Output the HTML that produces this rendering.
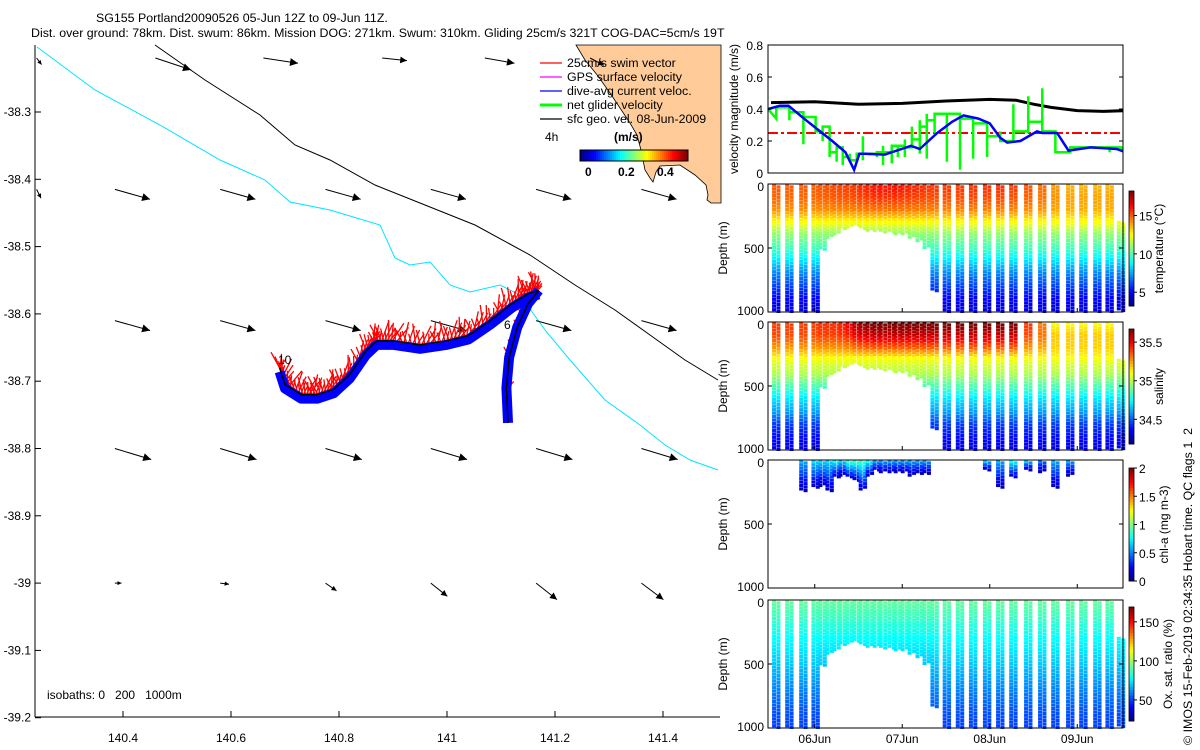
<!DOCTYPE html>
<html><head><meta charset="utf-8"><title>SG155 glider plot</title>
<style>
html,body{margin:0;padding:0;background:#fff;width:1200px;height:750px;overflow:hidden}
svg{display:block}
text{font-family:"Liberation Sans",sans-serif;font-size:12px;fill:#000;white-space:pre}
</style></head>
<body>
<svg id="fig" width="1200" height="750" viewBox="0 0 1200 750" xmlns="http://www.w3.org/2000/svg">
<g id="map">
  <text x="96" y="22" style="font-size:12.4px">SG155 Portland20090526 05-Jun 12Z to 09-Jun 11Z.</text>
  <text x="31" y="37" style="font-size:12.4px">Dist. over ground: 78km. Dist. swum: 86km. Mission DOG: 271km. Swum: 310km. Gliding 25cm/s 321T COG-DAC=5cm/s 19T</text>
  <polygon fill="#FFCC99" stroke="#000" stroke-width="0.8" points="576,45 585,60 598,76 610,93 620,108 630,123 637,135 641,150 643,160 645,170 650,178 653,182 656,172 660,166 680,165 695,175 706,185 708,195 707,200 711,203 721,203 721,45"/>
  <polyline fill="none" stroke="#00E5FF" stroke-width="1" points="37,47 95,90 160,125 220,160 265,180 290,202 330,210 380,225 395,258 410,265 430,262 450,285 470,292 500,285 520,295 545,330 570,360 605,400 640,425 665,445 690,460 718,470"/>
  <polyline fill="none" stroke="#000" stroke-width="1" points="155,45 205,80 260,115 295,145 330,160 375,185 425,205 475,225 530,255 575,285 615,310 650,335 685,360 718,380"/>
  <g id="vecs"></g>
  <g id="track"></g>
  <text x="278" y="364">10</text>
  <text x="504" y="329">6</text>
  <g>
    <g stroke-width="1.2"><line x1="540" y1="63" x2="562" y2="63" stroke="#f00"/><line x1="540" y1="77" x2="562" y2="77" stroke="#f0f"/><line x1="540" y1="91" x2="562" y2="91" stroke="#00f"/><line x1="540" y1="105" x2="562" y2="105" stroke="#0f0" stroke-width="3"/><line x1="540" y1="119" x2="562" y2="119" stroke="#000"/></g>
    <text x="567" y="67" style="font-size:12.4px">25cm/s swim vector</text>
    <text x="567" y="81" style="font-size:12.4px">GPS surface velocity</text>
    <text x="567" y="95" style="font-size:12.4px">dive-avg current veloc.</text>
    <text x="567" y="109" style="font-size:12.4px">net glider velocity</text>
    <text x="567" y="123" style="font-size:12.4px">sfc geo. vel. 08-Jun-2009</text>
    <text x="545" y="141">4h</text>
    <text x="614" y="141" style="font-weight:bold">(m/s)</text>
    <g id="speedbar"></g>
    <text x="585" y="176" style="font-weight:bold">0</text>
    <text x="618" y="176" style="font-weight:bold">0.2</text>
    <text x="657" y="176" style="font-weight:bold">0.4</text>
  </g>
  <text x="47" y="699">isobaths: 0   200   1000m</text>
  <line x1="35" y1="45" x2="35" y2="717" stroke="#000"/>
  <line x1="35" y1="717" x2="720" y2="717" stroke="#000"/>
  <g id="mapticks"></g>
</g>
<g id="vel"></g>
<g id="sections"></g>
<text transform="translate(1192,745) rotate(-90)" style="font-size:12.4px">© IMOS 15-Feb-2019 02:34:35 Hobart time. QC flags 1  2</text>
</svg>
<script>
// ---------- data ----------
const arrowLons = [140.385, 140.58, 140.775, 140.97, 141.165, 141.36];
const arrowLats = [-38.61, -38.8, -38.415];
const arrowU = [0.32, 0.33, 0.32];
const arrowV = [-0.09, -0.1, -0.09];
const topArrowLons = [140.24, 140.46, 140.66, 140.88, 141.07, 141.265];
const topArrowU = [0.05, 0.36, 0.35, 0.25, 0.3, 0.14];
const topArrowV = [-0.1, -0.18, -0.08, -0.04, -0.08, -0.11];
const botArrowLons = [140.385, 140.58, 140.775, 140.97, 141.165, 141.36];
const botArrowU = [0.06, 0.08, 0.1, 0.15, 0.19, 0.2];
const botArrowV = [0.0, -0.01, -0.07, -0.12, -0.15, -0.15];
const trackLon = [140.69, 140.7, 140.73, 140.76, 140.79, 140.82, 140.85, 140.87, 140.9, 140.95, 141.0, 141.04, 141.08, 141.12, 141.15, 141.17];
const trackLat = [-38.68, -38.705, -38.72, -38.72, -38.712, -38.69, -38.655, -38.64, -38.64, -38.646, -38.64, -38.632, -38.61, -38.585, -38.57, -38.565];
const branchLon = [141.17, 141.15, 141.13, 141.115, 141.11, 141.113];
const branchLat = [-38.565, -38.585, -38.62, -38.665, -38.71, -38.762];

// velocity panel (t in days since 05-Jun 12Z)
const blackT = [0, 0.5, 1.0, 1.5, 2.0, 2.5, 2.8, 3.0, 3.2, 3.5, 3.8, 4.05];
const blackV = [0.44, 0.445, 0.43, 0.435, 0.45, 0.46, 0.455, 0.43, 0.41, 0.39, 0.385, 0.39];
const blueT = [-0.03, 0.1, 0.2, 0.4, 0.7, 0.85, 0.95, 1.01, 1.08, 1.3, 1.6, 1.7, 1.9, 2.07, 2.2, 2.37, 2.5, 2.62, 2.7, 2.85, 3.04, 3.1, 3.27, 3.4, 3.65, 3.95, 4.05];
const blueV = [0.40, 0.42, 0.42, 0.33, 0.20, 0.13, 0.02, 0.12, 0.12, 0.115, 0.17, 0.15, 0.25, 0.32, 0.36, 0.34, 0.31, 0.22, 0.19, 0.20, 0.26, 0.25, 0.25, 0.14, 0.16, 0.15, 0.13];
const diveT = [0.06, 0.21, 0.37, 0.51, 0.59, 0.67, 0.75, 0.82, 0.9, 0.98, 1.05, 1.13, 1.21, 1.28, 1.38, 1.45, 1.53, 1.61, 1.7, 1.78, 1.87, 2.01, 2.16, 2.31, 2.47, 2.62, 2.77, 2.94, 3.1, 3.25, 3.42, 3.57, 3.73, 3.87, 4.0];
const greenV = [0.41, 0.38, 0.35, 0.26, 0.29, 0.13, 0.16, 0.10, 0.08, 0.12, 0.12, 0.12, 0.13, 0.13, 0.17, 0.17, 0.16, 0.21, 0.29, 0.33, 0.37, 0.37, 0.34, 0.31, 0.23, 0.20, 0.26, 0.32, 0.26, 0.13, 0.16, 0.16, 0.16, 0.16, 0.15];
const greenMin = [0.34, 0.33, 0.18, 0.26, 0.20, 0.10, 0.07, 0.05, 0.07, 0.10, 0.08, 0.11, 0.10, 0.05, 0.06, 0.10, 0.10, 0.16, 0.12, 0.09, 0.25, 0.07, 0.02, 0.09, 0.10, 0.20, 0.24, 0.25, 0.25, 0.13, 0.16, 0.15, 0.15, 0.13, 0.14];
const greenMax = [0.41, 0.38, 0.35, 0.29, 0.29, 0.16, 0.16, 0.10, 0.12, 0.12, 0.23, 0.12, 0.13, 0.17, 0.17, 0.17, 0.21, 0.29, 0.33, 0.37, 0.37, 0.37, 0.34, 0.31, 0.23, 0.26, 0.43, 0.48, 0.53, 0.16, 0.16, 0.16, 0.16, 0.16, 0.15];
const swimSpeed = 0.25;
const velTicks = ["0", "0.2", "0.4", "0.6", "0.8"];

// sections
const diveMaxDepth = [1000, 1000, 1000, 1000, 520, 420, 390, 360, 340, 330, 350, 370, 370, 380, 380, 390, 400, 420, 450, 500, 840, 1000, 1000, 1000, 1000, 1000, 1000, 1000, 1000, 1000, 1000, 1000, 1000, 1000, 1000];
const profDepths = [0, 100, 200, 300, 400, 500, 600, 700, 800, 900, 1000];
const tempProfile = [15.2, 15.0, 14.3, 12.5, 10.8, 9.8, 8.4, 7, 6, 5, 4.5];
const tempTop = [15.0, 15.0, 15.0, 15.0, 15.1, 15.2, 15.3, 15.4, 15.5, 15.6, 15.8, 16.0, 16.2, 16.2, 16.2, 16.2, 16.0, 15.9, 15.8, 15.6, 15.6, 15.6, 15.6, 15.7, 15.7, 15.7, 15.5, 15.1, 14.7, 14.0, 13.6, 13.6, 13.6, 13.6, 13.6];
const salProfile = [35.35, 35.35, 35.25, 35.08, 35.0, 34.85, 34.7, 34.6, 34.45, 34.38, 34.32];
const salTop = [35.4, 35.4, 35.4, 35.4, 35.42, 35.42, 35.42, 35.45, 35.5, 35.6, 35.65, 35.68, 35.7, 35.7, 35.7, 35.7, 35.7, 35.7, 35.7, 35.7, 35.7, 35.7, 35.7, 35.7, 35.7, 35.7, 35.7, 35.4, 35.3, 35.1, 35.1, 35.1, 35.1, 35.1, 35.1];
const oxProfile = [92, 88, 83, 78, 74, 70, 65, 60, 56, 52, 50];
const chlTop = [0, 0, 0.6, 0.7, 0.7, 0.7, 0.8, 0.7, 0.9, 0.9, 0.9, 0.8, 0.6, 0.6, 0.6, 0.6, 0.6, 0.6, 0.6, 0.6, 0, 0, 0, 0, 0.7, 0.6, 0.8, 0.7, 0.5, 0.6, 0.6, 0.7, 0.5, 0, 0];
const chlDepth = [0, 0, 250, 220, 200, 240, 140, 120, 140, 160, 230, 120, 90, 100, 100, 100, 100, 120, 110, 110, 0, 0, 0, 0, 80, 220, 140, 80, 100, 220, 120, 0, 0, 0, 0];
const dateTicks = ["06Jun", "07Jun", "08Jun", "09Jun"];
const dateTickT = [0.5, 1.5, 2.5, 3.5];

// ---------- helpers ----------
const NS = "http://www.w3.org/2000/svg";
function el(tag, attrs, parent) {
  const e = document.createElementNS(NS, tag);
  for (const k in attrs) e.setAttribute(k, attrs[k]);
  parent.appendChild(e);
  return e;
}
function jet(v) {
  v = Math.max(0, Math.min(1, v));
  const c = x => Math.round(255 * Math.max(0, Math.min(1, x)));
  return "rgb(" + c(1.5 - Math.abs(4 * v - 3)) + "," + c(1.5 - Math.abs(4 * v - 2)) + "," + c(1.5 - Math.abs(4 * v - 1)) + ")";
}
const mx = lon => 123 + (lon - 140.4) * 540;
const my = lat => 112 + (-38.3 - lat) * 673;

// ---------- map ----------
const vecs = document.getElementById("vecs");
function arrow(x, y, dx, dy) {
  const g = el("g", {}, vecs);
  
  
  el("line", {x1: x, y1: y, x2: x + dx, y2: y + dy, stroke: "#000", "stroke-width": 1}, g);
  const L = Math.hypot(dx, dy) || 1, ux = dx / L, uy = dy / L;
  const hx = x + dx, hy = y + dy, s = Math.min(8, 3 + L * 0.15);
  el("polygon", {points: hx + "," + hy + " " + (hx - s * ux - s * 0.5 * uy) + "," + (hy - s * uy + s * 0.5 * ux) + " " + (hx - s * ux + s * 0.5 * uy) + "," + (hy - s * uy - s * 0.5 * ux), fill: "#000"}, g);
}
const S = 110;
for (let r = 0; r < arrowLats.length; r++)
  for (let c = 0; c < arrowLons.length; c++)
    arrow(mx(arrowLons[c]), my(arrowLats[r]), arrowU[r] * S, -arrowV[r] * S);
for (let c = 0; c < topArrowLons.length; c++) arrow(mx(topArrowLons[c]), 58, topArrowU[c] * S * 0.9, -topArrowV[c] * S * 0.6);
arrow(mx(140.24), my(-38.415), 0.04 * S, -(-0.08) * S);
for (let c = 0; c < botArrowLons.length; c++) arrow(mx(botArrowLons[c]), my(-39.0), botArrowU[c] * S, -botArrowV[c] * S);

// track
const track = document.getElementById("track");
function polyPts(lons, lats, oy) { return lons.map((l, i) => mx(l) + "," + (my(lats[i]) + (oy || 0))).join(" "); }
function swim(lons, lats, len) {
  for (let i = 0; i < lons.length - 1; i++) {
    for (let k = 0; k < 12; k++) {
      const f = k / 12, x = mx(lons[i] + (lons[i + 1] - lons[i]) * f), y = my(lats[i] + (lats[i + 1] - lats[i]) * f);
      const a = -Math.PI / 2 + 0.7 - ((i * 7 + k * 5) % 11) * 0.12;
      const L = len * (0.5 + ((i * 3 + k * 7) % 5) * 0.15);
      const ln = el("line", {x1: x, y1: y - 1, x2: x + L * Math.cos(a), y2: y - 1 + L * Math.sin(a), stroke: "#f00", "stroke-width": 1.3}, track);
      
      
    }
  }
}
swim(trackLon, trackLat, 18);
swim(branchLon, branchLat, 10);
let p = el("polyline", {points: polyPts(trackLon, trackLat, 4), fill: "none", stroke: "#00f", "stroke-width": 10, "stroke-linejoin": "round"}, track);


p = el("polyline", {points: polyPts(branchLon, branchLat, 0), fill: "none", stroke: "#00f", "stroke-width": 10, "stroke-linejoin": "round"}, track);


p = el("polyline", {points: polyPts(trackLon, trackLat, 0), fill: "none", stroke: "#000", "stroke-width": 1.5}, track);


p = el("polyline", {points: polyPts(branchLon, branchLat, 0), fill: "none", stroke: "#000", "stroke-width": 1.5}, track);



// speed colorbar
const sb = document.getElementById("speedbar");
for (let i = 0; i < 54; i++) {
  const r = el("rect", {x: 580 + i * 2, y: 150, width: 2.2, height: 11, fill: jet(i / 53)}, sb);
  
  
}
el("rect", {x: 580, y: 150, width: 108, height: 11, fill: "none", stroke: "#000"}, sb);

// map ticks
const mt = document.getElementById("mapticks");
const lonTicks = ["140.4", "140.6", "140.8", "141", "141.2", "141.4"];
lonTicks.forEach(s => {
  const x = mx(+s);
  el("line", {x1: x, y1: 717, x2: x, y2: 711, stroke: "#000"}, mt);
  const t = el("text", {x: x, y: 742, "text-anchor": "middle"}, mt);
  t.textContent = s;
  
  
});
const latTicks = ["-38.3", "-38.4", "-38.5", "-38.6", "-38.7", "-38.8", "-38.9", "-39", "-39.1", "-39.2"];
latTicks.forEach(s => {
  const y = my(+s);
  el("line", {x1: 35, y1: y, x2: 41, y2: y, stroke: "#000"}, mt);
  const t = el("text", {x: 31, y: y + 4, "text-anchor": "end"}, mt);
  t.textContent = s;
  
  
});

// ---------- velocity panel ----------
const VX0 = 768, VX1 = 1123, tx = t => 771 + t * 87.5;
const vel = document.getElementById("vel");
const vy = v => 173 - v * 160;
const clipV = el("clipPath", {id: "cv"}, vel);
el("rect", {x: VX0, y: 44, width: VX1 - VX0, height: 130}, clipV);
const vg = el("g", {"clip-path": "url(#cv)"}, vel);
let pl = el("polyline", {points: blackT.map((t, i) => tx(t) + "," + vy(blackV[i])).join(" "), fill: "none", stroke: "#000", "stroke-width": 3}, vg);


pl = el("line", {x1: VX0, y1: vy(swimSpeed), x2: VX1, y2: vy(swimSpeed), stroke: "#f00", "stroke-width": 2, "stroke-dasharray": "10,3,3,3"}, vg);


let gp = [];
for (let i = 0; i < diveT.length; i++) {
  const t0 = diveT[i], t1 = i + 1 < diveT.length ? diveT[i + 1] : 4.1;
  gp.push(tx(t0) + "," + vy(greenMin[i]), tx(t0) + "," + vy(greenMax[i]), tx(t0) + "," + vy(greenV[i]), tx(t1) + "," + vy(greenV[i]));
}
pl = el("polyline", {points: (tx(-0.05) + "," + vy(greenV[0]) + " ") + gp.join(" "), fill: "none", stroke: "#0f0", "stroke-width": 2.5}, vg);


pl = el("polyline", {points: blueT.map((t, i) => tx(t) + "," + vy(blueV[i])).join(" "), fill: "none", stroke: "#00f", "stroke-width": 2.5}, vg);


el("rect", {x: VX0, y: 45, width: VX1 - VX0, height: 128, fill: "none", stroke: "#000"}, vel);
velTicks.forEach(s => {
  const y = vy(+s);
  el("line", {x1: VX0, y1: y, x2: VX0 + 4, y2: y, stroke: "#000"}, vel);
  el("line", {x1: VX1, y1: y, x2: VX1 - 4, y2: y, stroke: "#000"}, vel);
  const t = el("text", {x: 763, y: y + 5, "text-anchor": "end"}, vel);
  t.textContent = s;
  
  
});
let yl = el("text", {transform: "translate(738,109) rotate(-90)", "text-anchor": "middle"}, vel);
yl.textContent = "velocity magnitude (m/s)";



// ---------- sections ----------
function interp(xs, ys, x) {
  if (x <= xs[0]) return ys[0];
  for (let i = 1; i < xs.length; i++) if (x <= xs[i]) { const f = (x - xs[i - 1]) / (xs[i] - xs[i - 1]); return ys[i - 1] + f * (ys[i] - ys[i - 1]); }
  return ys[ys.length - 1];
}
const secs = document.getElementById("sections");
const panels = [
  {name: "temperature", y0: 184, cb0: 191, cb1: 306, vmin: 3.2, vmax: 18.2, ticks: [5, 10, 15], label: "temperature (°C)", lx: 1163},
  {name: "salinity", y0: 322, cb0: 329, cb1: 444, vmin: 34.18, vmax: 35.67, ticks: [34.5, 35, 35.5], label: "salinity", lx: 1163},
  {name: "chl-a", y0: 460, cb0: 468, cb1: 581, vmin: 0, vmax: 2, ticks: [0, 0.5, 1, 1.5, 2], label: "chl-a (mg m-3)", lx: 1168},
  {name: "oxygen", y0: 600, cb0: 607, cb1: 721, vmin: 23, vmax: 169, ticks: [50, 100, 150], label: "Ox. sat. ratio (%)", lx: 1172}
];
panels.forEach((P, pi) => {
  const g = el("g", {}, secs);
  
  
  const dy = d => P.y0 + d * 0.128;
  const norm = v => (v - P.vmin) / (P.vmax - P.vmin);
  for (let i = 0; i < diveT.length; i++) {
    let maxD = diveMaxDepth[i];
    let topD = 10;
    if (pi === 2) { if (!chlTop[i]) continue; maxD = chlDepth[i]; }
    if (i === diveT.length - 1) topD = 300;
    for (const off of [-2.2, 2.2]) {
      for (let d = topD + (off > 0 ? 13 : 0); d <= maxD; d += 27) {
        let v;
        if (pi === 0) v = interp(profDepths, tempProfile, d) + (tempTop[i] - tempProfile[0]) * Math.max(0, 1 - d / 300);
        else if (pi === 1) v = interp(profDepths, salProfile, d) + (salTop[i] - salProfile[0]) * Math.max(0, 1 - d / 280);
        else if (pi === 2) v = chlTop[i] * (1 - 0.85 * d / Math.max(maxD, 1));
        else v = interp(profDepths, oxProfile, d);
        const x = tx(diveT[i]) + off;
        const m = el("rect", {x: x - 2, y: dy(d) - 1.6, width: 4, height: 3.2, fill: jet(norm(v))}, g);
        
        
      }
    }
  }
  el("rect", {x: VX0, y: P.y0, width: VX1 - VX0, height: 128, fill: "none", stroke: "#000"}, g);
  [["0", 0], ["500", 500], ["1000", 1000]].forEach(a => {
    const y = dy(a[1]);
    el("line", {x1: VX0, y1: y, x2: VX0 + 4, y2: y, stroke: "#000"}, g);
    el("line", {x1: VX1, y1: y, x2: VX1 - 4, y2: y, stroke: "#000"}, g);
    const t = el("text", {x: 764, y: y + (a[1] === 0 ? 7 : a[1] === 1000 ? 3 : 5), "text-anchor": "end"}, g);
    t.textContent = a[0];
    
    
  });
  dateTickT.forEach(t => {
    el("line", {x1: tx(t), y1: P.y0 + 128, x2: tx(t), y2: P.y0 + 124, stroke: "#000"}, g);
  });
  const yt = el("text", {transform: "translate(727," + (P.y0 + 64) + ") rotate(-90)", "text-anchor": "middle"}, g);
  yt.textContent = "Depth (m)";
  
  
  const cb = el("g", {}, g);
  
  
  const n = 40, h = (P.cb1 - P.cb0) / n;
  for (let k = 0; k < n; k++) el("rect", {x: 1129, y: P.cb1 - (k + 1) * h, width: 5, height: h + 0.4, fill: jet((k + 0.5) / n)}, cb);
  el("rect", {x: 1129, y: P.cb0, width: 5, height: P.cb1 - P.cb0, fill: "none", stroke: "#000", "stroke-width": 0.8}, cb);
  P.ticks.forEach(v => {
    const y = P.cb1 - norm(v) * (P.cb1 - P.cb0);
    el("line", {x1: 1134, y1: y, x2: 1137, y2: y, stroke: "#000"}, cb);
    const t = el("text", {x: 1139, y: y + 5}, cb);
    t.textContent = String(v);
    
    
  });
  const lt = el("text", {transform: "translate(" + P.lx + "," + ((P.cb0 + P.cb1) / 2) + ") rotate(-90)", "text-anchor": "middle"}, g);
  lt.textContent = P.label;
  
  
});
dateTicks.forEach((s, i) => {
  const t = el("text", {x: tx(dateTickT[i]), y: 743, "text-anchor": "middle"}, secs);
  t.textContent = s;
  
  
});
</script>
</body></html>
